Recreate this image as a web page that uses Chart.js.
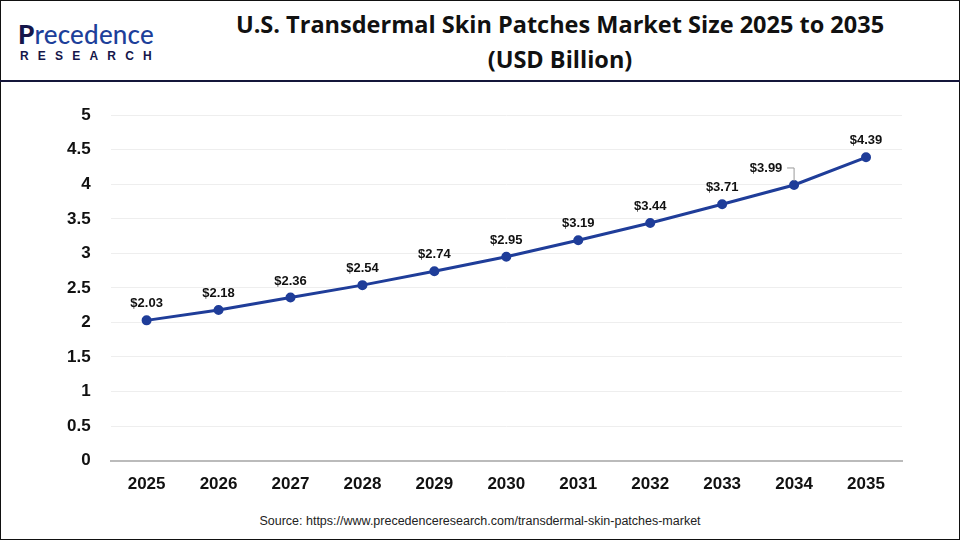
<!DOCTYPE html>
<html>
<head>
<meta charset="utf-8">
<script src="https://cdn.jsdelivr.net/npm/chart.js@4"></script>
<style>
  html, body { margin: 0; padding: 0; background: #fff; }
  body { width: 960px; height: 540px; position: relative; overflow: hidden; font-family: "Liberation Sans", Arial, sans-serif; }
  .frame { position: absolute; left: 0; top: 0; width: 958px; height: 538px; border: 1px solid #111; }
  .header-line { position: absolute; left: 0; top: 80px; width: 960px; height: 2px; background: #14163a; }
  .logo { position: absolute; left: 18px; top: 21px; }
  .logo .brand { font-family: "Lato", "Open Sans", sans-serif; font-size: 26px; font-weight: 500; color: #1d3f9a; letter-spacing: 0.2px; line-height: 26px; }
  .logo .brand b { color: #15164a; font-weight: 900; }
  .logo .sub { font-family: "Liberation Sans", Arial, sans-serif; font-size: 12px; font-weight: bold; color: #15164a; letter-spacing: 9.2px; margin-top: 2px; margin-left: 2px; }
  .title { position: absolute; left: 160px; width: 800px; top: 7px; text-align: center; font-family: "Open Sans", sans-serif; font-weight: bold; font-size: 23.5px; line-height: 35px; color: #111; }
  .chart-box { position: absolute; left: 0; top: 85px; width: 960px; height: 426px; }
  .source { position: absolute; left: 0; width: 960px; top: 514px; text-align: center; font-size: 12.5px; color: #222; }
</style>
</head>
<body>
<div class="frame"></div>
<div class="logo">
  <div class="brand"><b>P</b>recedence</div>
  <div class="sub">RESEARCH</div>
</div>
<div class="title">U.S. Transdermal Skin Patches Market Size 2025 to 2035<br>(USD Billion)</div>
<div class="header-line"></div>
<div class="chart-box"><canvas id="chart"></canvas></div>
<div class="source">Source: https://www.precedenceresearch.com/transdermal-skin-patches-market</div>
<script>
const years = ['2025', '2026', '2027', '2028', '2029', '2030', '2031', '2032', '2033', '2034', '2035'];
const marketSize = [2.03, 2.18, 2.36, 2.54, 2.74, 2.95, 3.19, 3.44, 3.71, 3.99, 4.39];
const yTicks = [0, 0.5, 1, 1.5, 2, 2.5, 3, 3.5, 4, 4.5, 5];

const valueLabels = {
  id: 'valueLabels',
  afterDatasetsDraw(chart) {
    const ctx = chart.ctx;
    const meta = chart.getDatasetMeta(0);
    ctx.save();
    ctx.font = 'bold 13px "Liberation Sans", Arial, sans-serif';
    ctx.fillStyle = '#111';
    ctx.textAlign = 'center';
    ctx.textBaseline = 'bottom';
    meta.data.forEach((pt, i) => {
      const text = '$' + marketSize[i].toFixed(2);
      if (i === 9) {
        // label pushed left with a small leader line
        ctx.strokeStyle = '#999';
        ctx.lineWidth = 1;
        ctx.beginPath();
        ctx.moveTo(pt.x, pt.y - 4);
        ctx.lineTo(pt.x, pt.y - 17);
        ctx.lineTo(pt.x - 7, pt.y - 17);
        ctx.stroke();
        ctx.fillText(text, pt.x - 28, pt.y - 10);
      } else {
        ctx.fillText(text, pt.x, pt.y - 10);
      }
    });
    ctx.restore();
  }
};

new Chart(document.getElementById('chart').getContext('2d'), {
  type: 'line',
  data: {
    labels: years,
    datasets: [{
      data: marketSize,
      borderColor: '#1f3d99',
      backgroundColor: '#1f3d99',
      borderWidth: 3,
      pointRadius: 3.5,
      pointHoverRadius: 3.5,
      tension: 0
    }]
  },
  options: {
    responsive: true,
    maintainAspectRatio: false,
    animation: false,
    layout: { padding: { left: 47, right: 58, top: 18, bottom: 2 } },
    plugins: {
      legend: { display: false },
      tooltip: { enabled: false }
    },
    scales: {
      x: {
        offset: true,
        grid: { display: false, drawTicks: false },
        border: { color: '#bbb', width: 2 },
        ticks: {
          color: '#111',
          padding: 14,
          font: { family: '"Liberation Sans", Arial, sans-serif', size: 17, weight: 'bold' }
        }
      },
      y: {
        min: 0,
        max: 5,
        afterBuildTicks(axis) { axis.ticks = yTicks.map(v => ({ value: v })); },
        grid: { color: '#eeeeee', drawTicks: false },
        border: { display: false },
        ticks: {
          color: '#111',
          padding: 20,
          callback: v => String(v),
          font: { family: '"Liberation Sans", Arial, sans-serif', size: 17, weight: 'bold' }
        }
      }
    }
  },
  plugins: [valueLabels]
});
</script>
</body>
</html>
